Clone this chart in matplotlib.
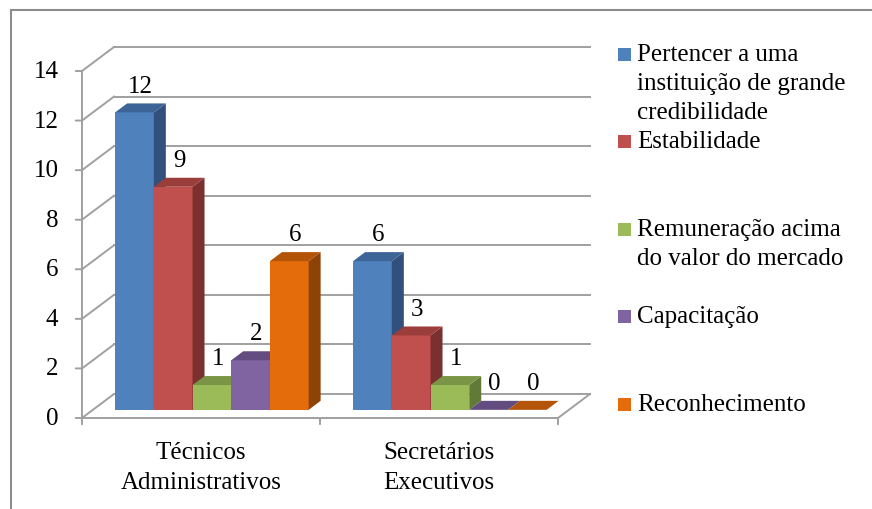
import matplotlib
matplotlib.use("Agg")
import matplotlib.pyplot as plt
from matplotlib.patches import Polygon, Rectangle

plt.rcParams["font.family"] = ["Liberation Serif", "DejaVu Serif"]

categories = [["Técnicos", "Administrativos"], ["Secretários", "Executivos"]]
series = [
    ["Pertencer a uma", "instituição de grande", "credibilidade"],
    ["Estabilidade"],
    ["Remuneração acima", "do valor do mercado"],
    ["Capacitação"],
    ["Reconhecimento"],
]
values = [
    [12, 6],
    [9, 3],
    [1, 1],
    [2, 0],
    [6, 0],
]
yticks = [0, 2, 4, 6, 8, 10, 12, 14]

# front, top and side shades per series
FRONT = ["#4F81BD", "#C0504D", "#9BBB59", "#8064A2", "#E46C0A"]
TOP = ["#3C6497", "#9B3D3A", "#7A9545", "#634D80", "#B35409"]
SIDE = ["#31507C", "#7A302E", "#627A37", "#4E3D66", "#8E4306"]
GRID = "#A0A0A0"
FS = 18

W, H = 872, 510
fig = plt.figure(figsize=(W / 100, H / 100), dpi=100)
# front plane of the 3D box: x 82..558 px, y 419..72 px
ax = fig.add_axes([82 / W, (H - 419) / H, 476 / W, 347 / H])
ax.set_xlim(-0.5, 1.5)
ax.set_ylim(0, 14)
ax.axis("off")

DX, DY = 32 / 238, 24 / (347 / 14)     # depth of the box in data units
F0, FD = 0.34, 0.375                   # bar front depth and bar thickness
BW = 38.7 / 238                        # bar width

# back wall, left wall and floor
for v in yticks:
    ax.plot([-0.5 + DX, 1.5 + DX], [v + DY, v + DY], color=GRID, lw=1.4,
            clip_on=False, zorder=1)
    ax.plot([-0.5, -0.5 + DX], [v, v + DY], color=GRID, lw=1.4,
            clip_on=False, zorder=1)
    ax.annotate("", xy=(-0.5, v), xytext=(-4.5, 0), textcoords="offset points",
                arrowprops=dict(arrowstyle="-", color=GRID, lw=1.4,
                                shrinkA=0, shrinkB=0), annotation_clip=False)
    ax.annotate(str(v), xy=(-0.5, v), xytext=(-17, 0), textcoords="offset points",
                ha="right", va="center", fontsize=FS, annotation_clip=False)
ax.plot([-0.5, -0.5], [0, 14], color=GRID, lw=1.4, clip_on=False, zorder=1)
ax.plot([-0.5, 1.5, 1.5 + DX], [0, 0, DY], color=GRID, lw=1.4,
        clip_on=False, zorder=1)
for x in [-0.5, 0.5, 1.5]:
    ax.annotate("", xy=(x, 0), xytext=(0, -4.5), textcoords="offset points",
                xycoords="data",
                arrowprops=dict(arrowstyle="-", color=GRID, lw=1.4,
                                shrinkA=0, shrinkB=0), annotation_clip=False)

# category labels
for i, lines in enumerate(categories):
    for k, line in enumerate(lines):
        ax.annotate(line, xy=(i, 0), xytext=(0, -24.5 - k * 21.6),
                    textcoords="offset points", ha="center", va="center",
                    fontsize=FS, annotation_clip=False)

# 3D bars, drawn left to right so each front face covers the previous side
n = len(values)
for i in range(len(categories)):
    for j in range(n):
        v = values[j][i]
        xl = i - n / 2 * BW + j * BW + F0 * DX
        yb = F0 * DY
        yt = yb + v
        ddx, ddy = FD * DX, FD * DY
        z = 3 + j
        if v > 0:
            ax.add_patch(Rectangle((xl, yb), BW, v, facecolor=FRONT[j],
                                   edgecolor="none", zorder=z, clip_on=False))
            ax.add_patch(Polygon([(xl + BW, yb), (xl + BW + ddx, yb + ddy),
                                  (xl + BW + ddx, yt + ddy), (xl + BW, yt)],
                                 closed=True, facecolor=SIDE[j], edgecolor="none",
                                 zorder=z, clip_on=False))
        ax.add_patch(Polygon([(xl, yt), (xl + BW, yt), (xl + BW + ddx, yt + ddy),
                              (xl + ddx, yt + ddy)], closed=True,
                             facecolor=TOP[j], edgecolor="none", zorder=z,
                             clip_on=False))
        mid = F0 + FD / 2
        ax.text(xl - F0 * DX + mid * DX + BW / 2, v + mid * DY + 0.9, str(v),
                ha="center", va="center", fontsize=FS, zorder=10)

# legend
for k, lines in enumerate(series):
    y0 = 55 + k * 87.5
    fig.patches.append(Rectangle((618 / W, (H - y0 - 6.5) / H), 13 / W, 13 / H,
                                 transform=fig.transFigure, facecolor=FRONT[k],
                                 edgecolor="none"))
    for m, line in enumerate(lines):
        fig.text(637 / W, (H - y0 - m * 29) / H, line, ha="left", va="center",
                 fontsize=FS)

# chart frame (runs off the right and bottom edges)
fig.patches.append(Rectangle((10.5 / W, -0.1), 2, (H - 10.5) / H + 0.1,
                             transform=fig.transFigure, facecolor="none",
                             edgecolor="#8C8C8C", lw=1.5))

fig.savefig("out.png", dpi=100)
